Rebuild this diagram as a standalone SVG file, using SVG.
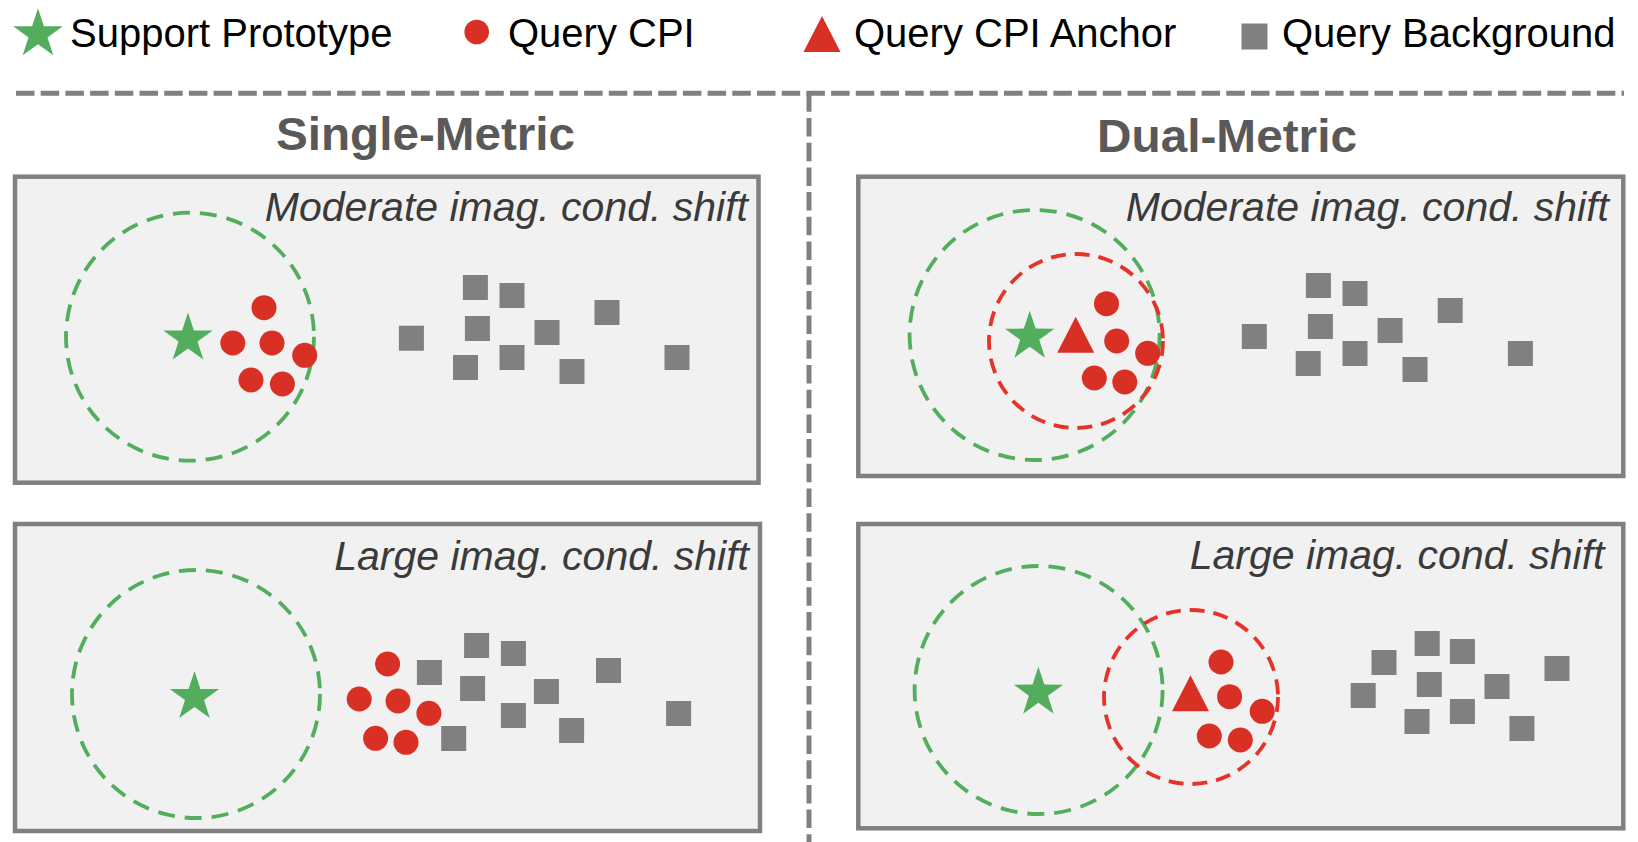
<svg xmlns="http://www.w3.org/2000/svg" xmlns:xlink="http://www.w3.org/1999/xlink" width="1638" height="842" viewBox="0 0 1638 842">
<style>
.lg{font-family:"Liberation Sans",Arial,sans-serif;font-size:40px;fill:#000}
.ttl{font-family:"Liberation Sans",Arial,sans-serif;font-size:46px;font-weight:bold;fill:#595959}
.cap{font-family:"Liberation Sans",Arial,sans-serif;font-size:41px;font-style:italic;fill:#3a3a3a;text-anchor:end}
.panel{fill:#f1f1f1;stroke:#808080;stroke-width:4.5}
.div{stroke:#808080;stroke-width:5;stroke-dasharray:18.5 6.2;fill:none}
.gring{fill:none;stroke:#52ae5c;stroke-width:3.8;stroke-dasharray:17 10}
.rring{fill:none;stroke:#e5332a;stroke-width:3.8;stroke-dasharray:15 9}
.star{fill:#52ae5c}
.cpi{fill:#d93025}
.anc{fill:#d93025}
.bg{fill:#808080}
</style>
<defs>
<polygon id="star" points="0,-26 5.878,-8.09 24.727,-8.034 9.511,3.09 15.282,21.034 0,10 -15.282,21.034 -9.511,3.09 -24.727,-8.034 -5.878,-8.09"/>
<polygon id="tri" points="0,-18 18.5,18 -18.5,18"/>
<rect id="sq" x="-12.5" y="-12.5" width="25" height="25"/>
</defs>
<rect width="1638" height="842" fill="#fff"/>

<g id="legend">
  <use href="#star" class="star" x="38" y="34.3"/>
  <text class="lg" x="70" y="47">Support Prototype</text>
  <circle class="cpi" cx="476.7" cy="32" r="12.3"/>
  <text class="lg" x="508" y="47">Query CPI</text>
  <use href="#tri" class="anc" x="822" y="34"/>
  <text class="lg" x="854" y="47">Query CPI Anchor</text>
  <rect class="bg" x="1241.5" y="23.5" width="26" height="26"/>
  <text class="lg" x="1282" y="47">Query Background</text>
</g>

<g id="connectors">
  <line class="div" x1="16" y1="93.3" x2="1624" y2="93.3"/>
  <line class="div" x1="809" y1="93.3" x2="809" y2="842"/>
</g>

<g id="title-single">
  <text class="ttl" x="276" y="150" textLength="299" lengthAdjust="spacingAndGlyphs">Single-Metric</text>
</g>
<g id="title-dual">
  <text class="ttl" x="1097" y="151.5" textLength="260" lengthAdjust="spacingAndGlyphs">Dual-Metric</text>
</g>

<g id="panel-single-moderate">
  <rect class="panel" x="15" y="176.7" width="743.5" height="306"/>
  <text class="cap" x="748" y="221">Moderate imag. cond. shift</text>
  <circle class="gring" cx="190" cy="336.7" r="124"/>
  <use href="#star" class="star" x="188" y="338.5"/>
  <circle class="cpi" cx="264" cy="307.7" r="12.5"/>
  <circle class="cpi" cx="232.8" cy="343" r="12.5"/>
  <circle class="cpi" cx="272" cy="343" r="12.5"/>
  <circle class="cpi" cx="304.7" cy="355.3" r="12.5"/>
  <circle class="cpi" cx="251" cy="380" r="12.5"/>
  <circle class="cpi" cx="282.4" cy="384" r="12.5"/>
  <use href="#sq" class="bg" x="475.4" y="287.5"/>
  <use href="#sq" class="bg" x="512" y="295.5"/>
  <use href="#sq" class="bg" x="607" y="312.5"/>
  <use href="#sq" class="bg" x="411.4" y="338.2"/>
  <use href="#sq" class="bg" x="477.4" y="328.5"/>
  <use href="#sq" class="bg" x="547" y="332.5"/>
  <use href="#sq" class="bg" x="512" y="357.5"/>
  <use href="#sq" class="bg" x="465.5" y="367.5"/>
  <use href="#sq" class="bg" x="572" y="371.5"/>
  <use href="#sq" class="bg" x="677" y="357.5"/>
</g>

<g id="panel-single-large">
  <rect class="panel" x="15" y="524" width="745" height="307"/>
  <text class="cap" x="749" y="570">Large imag. cond. shift</text>
  <circle class="gring" cx="196" cy="694" r="124"/>
  <use href="#star" class="star" x="194.5" y="697"/>
  <circle class="cpi" cx="387.6" cy="664" r="12.5"/>
  <circle class="cpi" cx="359.2" cy="699" r="12.5"/>
  <circle class="cpi" cx="398" cy="701" r="12.5"/>
  <circle class="cpi" cx="428.9" cy="713.3" r="12.5"/>
  <circle class="cpi" cx="375.6" cy="738.3" r="12.5"/>
  <circle class="cpi" cx="406" cy="742.3" r="12.5"/>
  <use href="#sq" class="bg" x="429.4" y="672.5"/>
  <use href="#sq" class="bg" x="476.6" y="645.5"/>
  <use href="#sq" class="bg" x="513.4" y="653.5"/>
  <use href="#sq" class="bg" x="472.6" y="688.5"/>
  <use href="#sq" class="bg" x="546.4" y="691.5"/>
  <use href="#sq" class="bg" x="608.5" y="670.5"/>
  <use href="#sq" class="bg" x="513.4" y="715.5"/>
  <use href="#sq" class="bg" x="571.6" y="730.5"/>
  <use href="#sq" class="bg" x="453.7" y="738.5"/>
  <use href="#sq" class="bg" x="678.6" y="713.5"/>
</g>

<g id="panel-dual-moderate">
  <rect class="panel" x="858.3" y="176.7" width="765" height="299.3"/>
  <text class="cap" x="1609" y="221">Moderate imag. cond. shift</text>
  <circle class="gring" cx="1034.6" cy="335" r="125"/>
  <circle class="rring" cx="1076" cy="341" r="87"/>
  <use href="#star" class="star" x="1029.7" y="336.7"/>
  <use href="#tri" class="anc" x="1075.7" y="334.8"/>
  <circle class="cpi" cx="1106.5" cy="303.7" r="12.5"/>
  <circle class="cpi" cx="1116.7" cy="341" r="12.5"/>
  <circle class="cpi" cx="1147.7" cy="353.3" r="12.5"/>
  <circle class="cpi" cx="1094.3" cy="378" r="12.5"/>
  <circle class="cpi" cx="1124.8" cy="382" r="12.5"/>
  <use href="#sq" class="bg" x="1318.4" y="285.5"/>
  <use href="#sq" class="bg" x="1355" y="293.5"/>
  <use href="#sq" class="bg" x="1450.2" y="310.5"/>
  <use href="#sq" class="bg" x="1254.3" y="336.5"/>
  <use href="#sq" class="bg" x="1320.4" y="326.5"/>
  <use href="#sq" class="bg" x="1390.1" y="330.5"/>
  <use href="#sq" class="bg" x="1355" y="353.5"/>
  <use href="#sq" class="bg" x="1308.2" y="363.5"/>
  <use href="#sq" class="bg" x="1415" y="369.5"/>
  <use href="#sq" class="bg" x="1520.4" y="353.5"/>
</g>

<g id="panel-dual-large">
  <rect class="panel" x="858.3" y="524" width="765" height="304.3"/>
  <text class="cap" x="1604.5" y="569">Large imag. cond. shift</text>
  <circle class="gring" cx="1038.6" cy="690" r="124"/>
  <circle class="rring" cx="1191" cy="697" r="87"/>
  <use href="#star" class="star" x="1038.4" y="692.7"/>
  <use href="#tri" class="anc" x="1190.5" y="693.3"/>
  <circle class="cpi" cx="1221" cy="662" r="12.5"/>
  <circle class="cpi" cx="1229.6" cy="696.7" r="12.5"/>
  <circle class="cpi" cx="1262.2" cy="711.3" r="12.5"/>
  <circle class="cpi" cx="1209.3" cy="736" r="12.5"/>
  <circle class="cpi" cx="1240.3" cy="740" r="12.5"/>
  <use href="#sq" class="bg" x="1384" y="662.5"/>
  <use href="#sq" class="bg" x="1427.2" y="643.5"/>
  <use href="#sq" class="bg" x="1462.4" y="651.5"/>
  <use href="#sq" class="bg" x="1557" y="668.5"/>
  <use href="#sq" class="bg" x="1363.2" y="695.5"/>
  <use href="#sq" class="bg" x="1429.3" y="684.5"/>
  <use href="#sq" class="bg" x="1497" y="686.5"/>
  <use href="#sq" class="bg" x="1417" y="721.5"/>
  <use href="#sq" class="bg" x="1462.4" y="711.5"/>
  <use href="#sq" class="bg" x="1521.9" y="728.5"/>
</g>
</svg>
